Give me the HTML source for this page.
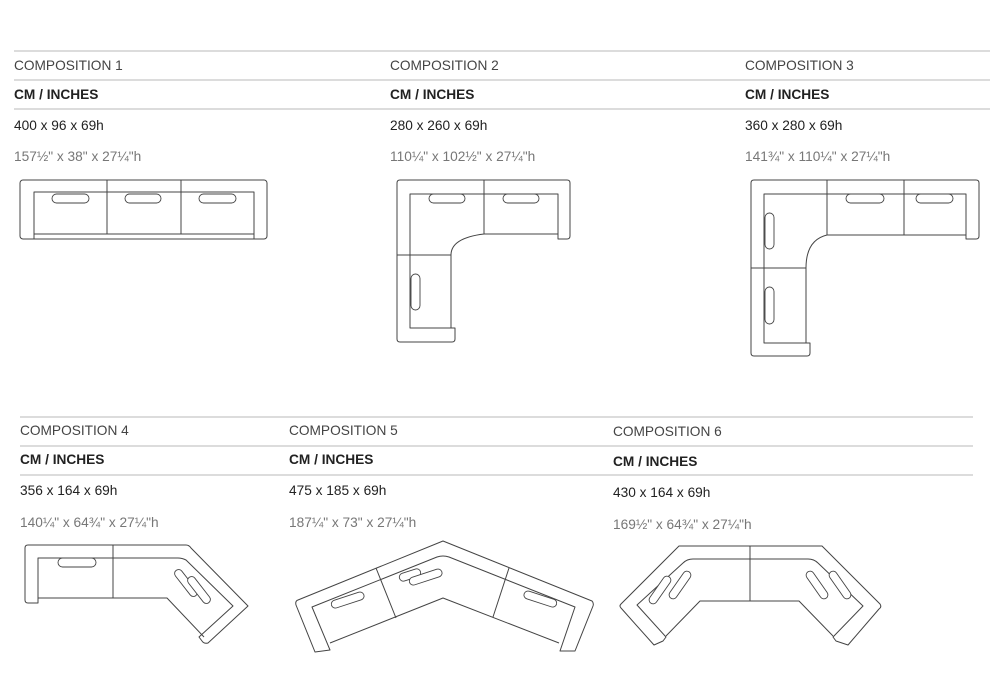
<!DOCTYPE html>
<html><head><meta charset="utf-8"><style>
html,body{margin:0;padding:0;background:#fff;}
svg{display:block;}
.t{font-family:"Liberation Sans",sans-serif;font-size:13.7px;fill:#444;}
.b{font-family:"Liberation Sans",sans-serif;font-size:13.7px;font-weight:bold;fill:#222;}
.d{font-family:"Liberation Sans",sans-serif;font-size:13.7px;fill:#222;}
.i{font-family:"Liberation Sans",sans-serif;font-size:13.7px;fill:#777;}
.r{stroke:#c8c8c8;stroke-width:1.2;}
.s{fill:none;stroke:#444;stroke-width:1;stroke-linejoin:round;}
.c{fill:#fff;stroke:#444;stroke-width:0.9;}
</style></head><body>
<svg width="1000" height="700" viewBox="0 0 1000 700" xmlns="http://www.w3.org/2000/svg">
<line class="r" x1="14" y1="51" x2="990" y2="51"/>
<line class="r" x1="14" y1="80" x2="990" y2="80"/>
<line class="r" x1="14" y1="109" x2="990" y2="109"/>
<line class="r" x1="20" y1="417" x2="973" y2="417"/>
<line class="r" x1="20" y1="446" x2="973" y2="446"/>
<line class="r" x1="20" y1="475" x2="973" y2="475"/>

<text class="t" x="14" y="70">COMPOSITION 1</text>
<text class="b" x="14" y="99">CM / INCHES</text>
<text class="d" x="14" y="130">400 x 96 x 69h</text>
<text class="i" x="14" y="161">157½" x 38" x 27¼"h</text>

<text class="t" x="390" y="70">COMPOSITION 2</text>
<text class="b" x="390" y="99">CM / INCHES</text>
<text class="d" x="390" y="130">280 x 260 x 69h</text>
<text class="i" x="390" y="161">110¼" x 102½" x 27¼"h</text>

<text class="t" x="745" y="70">COMPOSITION 3</text>
<text class="b" x="745" y="99">CM / INCHES</text>
<text class="d" x="745" y="130">360 x 280 x 69h</text>
<text class="i" x="745" y="161">141¾" x 110¼" x 27¼"h</text>

<text class="t" x="20" y="435">COMPOSITION 4</text>
<text class="b" x="20" y="464">CM / INCHES</text>
<text class="d" x="20" y="495">356 x 164 x 69h</text>
<text class="i" x="20" y="527">140¼" x 64¾" x 27¼"h</text>

<text class="t" x="289" y="435">COMPOSITION 5</text>
<text class="b" x="289" y="464">CM / INCHES</text>
<text class="d" x="289" y="495">475 x 185 x 69h</text>
<text class="i" x="289" y="527">187¼" x 73" x 27¼"h</text>

<text class="t" x="613" y="436">COMPOSITION 6</text>
<text class="b" x="613" y="466">CM / INCHES</text>
<text class="d" x="613" y="497">430 x 164 x 69h</text>
<text class="i" x="613" y="529">169½" x 64¾" x 27¼"h</text>

<!-- Composition 1 -->
<rect class="s" x="20" y="180" width="247" height="59" rx="3"/>
<path class="s" d="M34 239 V192 H254 V239 M34 234 H254 M107 180 V234 M181 180 V234"/>
<rect class="c" x="52" y="194" width="37" height="9" rx="4.5"/>
<rect class="c" x="125" y="194" width="36" height="9" rx="4.5"/>
<rect class="c" x="199" y="194" width="37" height="9" rx="4.5"/>

<!-- Composition 2 -->
<path class="s" d="M400 180 H567 Q570 180 570 183 V236 Q570 239 567 239 H558 V194 H410 V328 H455 V339 Q455 342 452 342 H400 Q397 342 397 339 V183 Q397 180 400 180 Z"/>
<path class="s" d="M558 234 H484 Q451 238 451 255 V328 M397 255 H451 M484 180 V234"/>
<rect class="c" x="429" y="194" width="36" height="9" rx="4.5"/>
<rect class="c" x="503" y="194" width="36" height="9" rx="4.5"/>
<rect class="c" x="411" y="274" width="9" height="36" rx="4.5"/>

<!-- Composition 3 -->
<path class="s" d="M754 180 H976 Q979 180 979 183 V236 Q979 239 976 239 H966 V194 H764 V343 H810 V353 Q810 356 807 356 H754 Q751 356 751 353 V183 Q751 180 754 180 Z"/>
<path class="s" d="M966 235 H827 Q806 240 806 268 V343 M751 268 H806 M827 180 V235 M904 180 V235"/>
<rect class="c" x="846" y="194" width="38" height="9" rx="4.5"/>
<rect class="c" x="916" y="194" width="37" height="9" rx="4.5"/>
<rect class="c" x="765" y="213" width="9" height="36" rx="4.5"/>
<rect class="c" x="765" y="287" width="9" height="37" rx="4.5"/>

<!-- Composition 4 -->
<path class="s" d="M28 545 H186 Q189 545 191 548 L248 606 L208 643 Q204 644 202 641 L199 637 L233 606 L186 560 Q182 558 178 558 H38 V603 H28 Q25 603 25 600 V548 Q25 545 28 545 Z"/>
<path class="s" d="M38 598 H167 L204 637 M113 545 V598"/>
<rect class="c" x="58" y="558" width="38" height="9" rx="4.5"/>
<rect class="c" x="170" y="579" width="32" height="8" rx="4" transform="rotate(52 186 583)"/>
<rect class="c" x="183" y="586" width="32" height="8" rx="4" transform="rotate(52 199 590)"/>

<!-- Composition 5 -->
<path class="s" d="M443 541 L592 601 Q594 603 593 606 L575 651 L560 651 L575 607 L449 557 Q443 555 437 557 L312 607 L330 650 L315 652 L296 605 Q295 601 298 600 Z"/>
<path class="s" d="M330 643 L443 598 L559 643 M376 568 L396 618 M509 568 L493 617"/>
<rect class="c" x="331" y="596" width="34" height="8" rx="4" transform="rotate(-18 348 601)"/>
<rect class="c" x="399" y="571" width="22" height="8" rx="4" transform="rotate(-18 410 575)"/>
<rect class="c" x="409" y="573" width="34" height="8" rx="4" transform="rotate(-18 426 578)"/>
<rect class="c" x="523" y="595" width="34" height="8" rx="4" transform="rotate(18 540 600)"/>

<!-- Composition 6 -->
<path class="s" d="M679 546 H822 L880 604 Q882 607 879 609 L848 645 L836 641 L833 637 L863 606 L818 563 Q814 559 808 559 H693 Q687 559 683 563 L637 605 L666 637 L663 641 L654 645 L621 608 Q619 606 621 604 Z"/>
<path class="s" d="M666 636 L700 601 H799 L833 636 M750 546 V601"/>
<rect class="c" x="644" y="586" width="32" height="8" rx="4" transform="rotate(-55 660 590)"/>
<rect class="c" x="664" y="581" width="32" height="8" rx="4" transform="rotate(-55 680 585)"/>
<rect class="c" x="824" y="581" width="32" height="8" rx="4" transform="rotate(55 840 585)"/>
<rect class="c" x="801" y="581" width="32" height="8" rx="4" transform="rotate(55 817 585)"/>
</svg>
</body></html>
